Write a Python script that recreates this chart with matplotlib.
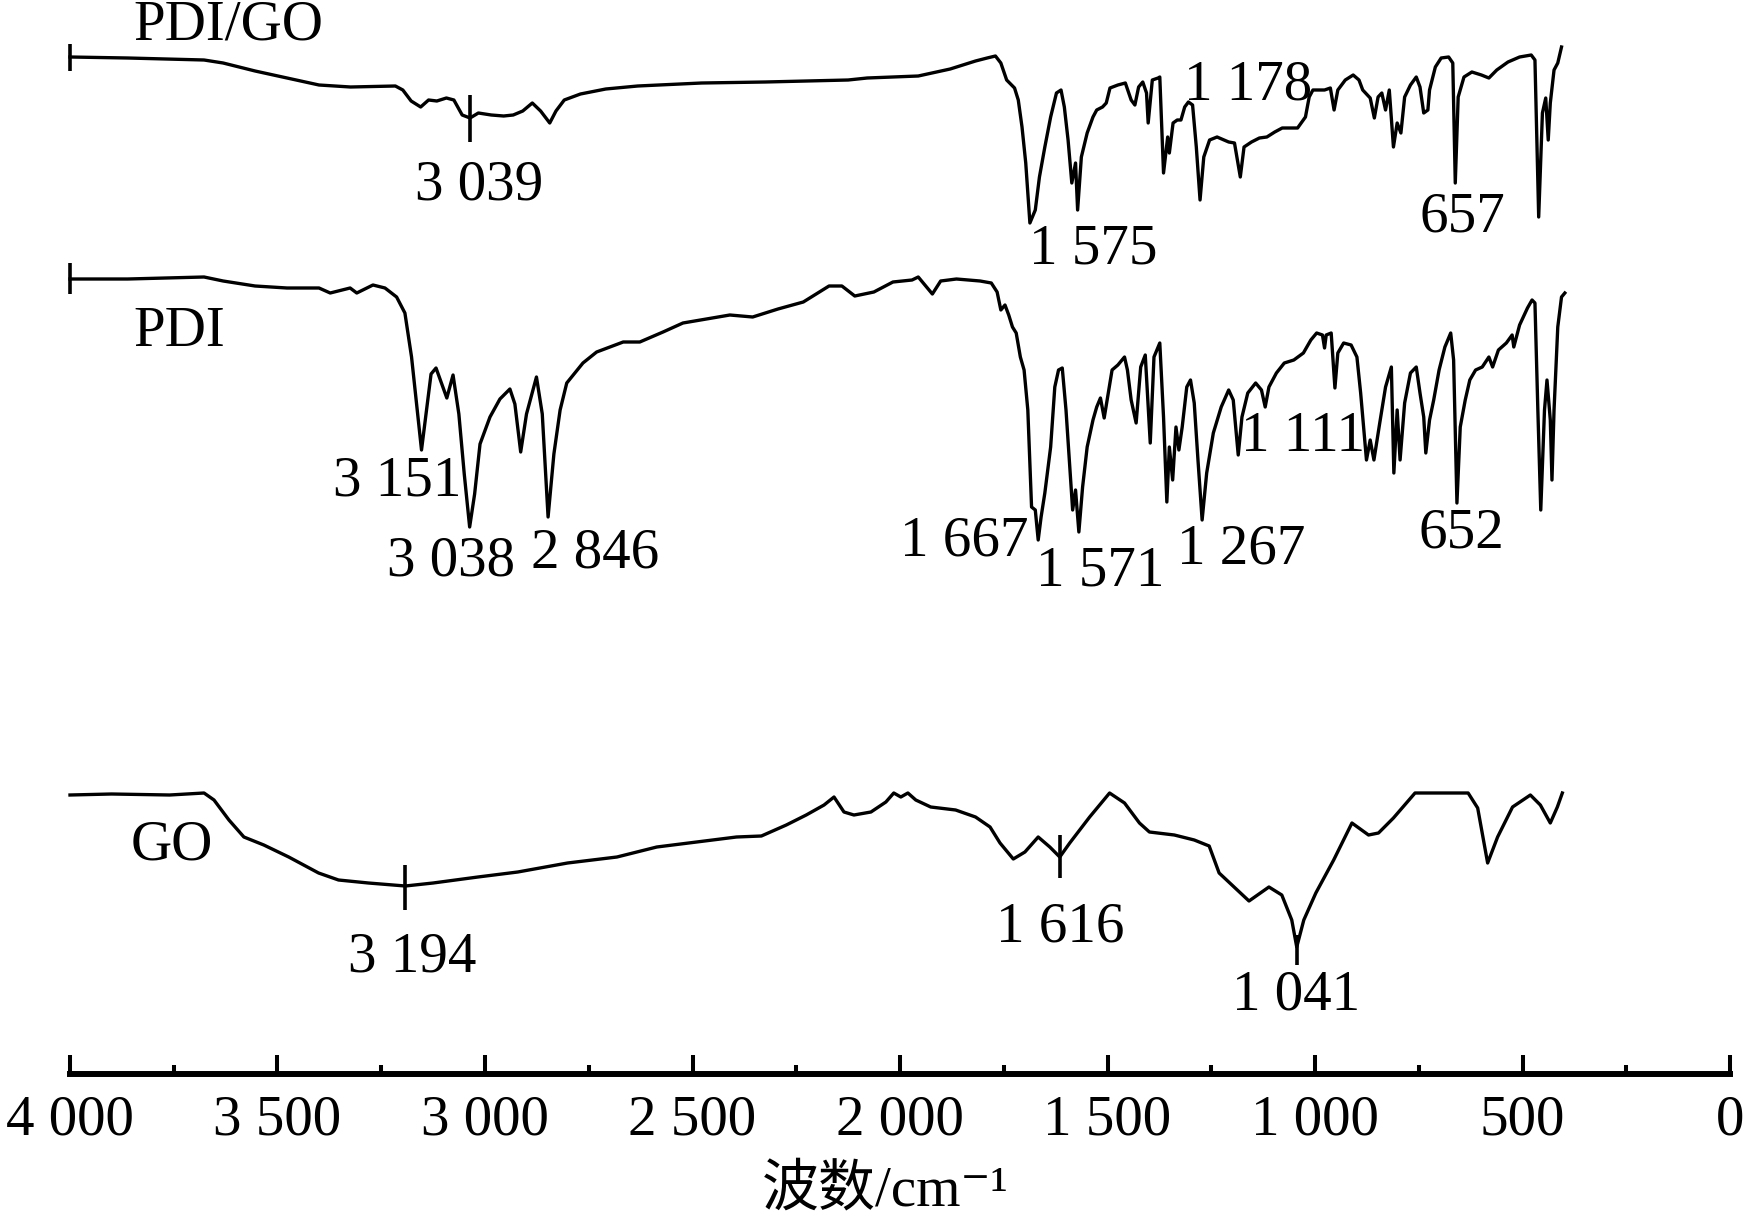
import matplotlib
matplotlib.use('Agg')
import matplotlib.pyplot as plt
import numpy as np

plt.rcParams['font.family'] = ['Liberation Serif', 'Noto Sans CJK SC', 'DejaVu Serif']

# wavenumber (cm-1) and stacked transmittance (a.u.)
pdigo_w = [4000, 3861, 3677, 3631, 3554, 3477, 3400, 3324, 3216, 3198,
           3178, 3155, 3136, 3116, 3093, 3075, 3055, 3036, 3016, 2985,
           2955, 2932, 2909, 2886, 2866, 2844, 2829, 2809, 2770, 2709,
           2632, 2478, 2325, 2125, 2079, 1956, 1879, 1818, 1790, 1770,
           1757, 1743, 1724, 1715, 1706, 1697, 1687, 1674, 1664, 1651,
           1637, 1623, 1612, 1604, 1595, 1586, 1577, 1572, 1563, 1549,
           1535, 1526, 1512, 1503, 1494, 1475, 1457, 1443, 1434, 1425,
           1415, 1406, 1402, 1392, 1378, 1374, 1369, 1365, 1355, 1351,
           1342, 1332, 1323, 1314, 1305, 1295, 1286, 1277, 1268, 1254,
           1236, 1208, 1194, 1180, 1171, 1153, 1134, 1116, 1097, 1079,
           1042, 1023, 1014, 1005, 977, 963, 954, 945, 927, 908,
           894, 885, 867, 857, 848, 839, 830, 821, 811, 802,
           793, 784, 770, 756, 747, 738, 728, 724, 710, 696,
           678, 668, 662, 655, 641, 622, 599, 581, 562, 535,
           507, 479, 470, 461, 452, 444, 438, 433, 424, 415,
           406]
pdigo_t = [1017, 1016, 1014, 1011, 1003, 996, 989, 987, 988, 984,
           973, 967, 974, 973, 976, 974, 959, 956, 961, 959,
           958, 959, 963, 971, 963, 951, 963, 974, 980, 985,
           988, 991, 992, 994, 996, 998, 1005, 1013, 1016, 1018,
           1011, 994, 986, 974, 947, 911, 851, 864, 897, 927,
           957, 981, 984, 967, 934, 891, 911, 864, 917, 941,
           957, 964, 967, 971, 986, 989, 991, 974, 969, 987,
           992, 981, 951, 994, 996, 997, 944, 901, 937, 921,
           951, 954, 954, 967, 972, 969, 927, 874, 917, 934,
           937, 932, 931, 897, 927, 932, 936, 937, 942, 946,
           946, 957, 977, 984, 984, 986, 964, 984, 994, 999,
           994, 984, 976, 956, 977, 981, 964, 984, 927, 951,
           941, 977, 989, 997, 987, 961, 964, 984, 1007, 1016,
           1017, 1011, 891, 977, 997, 1002, 999, 996, 1004, 1012,
           1017, 1019, 1014, 857, 961, 976, 934, 971, 1004, 1011,
           1027]

pdi_w = [4000, 3861, 3677, 3631, 3554, 3477, 3400, 3373, 3325, 3309,
         3270, 3241, 3213, 3193, 3177, 3165, 3153, 3141, 3130, 3118,
         3104, 3092, 3077, 3063, 3050, 3037, 3025, 3012, 2988, 2964,
         2940, 2928, 2914, 2900, 2876, 2862, 2848, 2834, 2819, 2803,
         2764, 2731, 2667, 2627, 2571, 2523, 2410, 2355, 2294, 2233,
         2171, 2140, 2109, 2063, 2017, 1971, 1956, 1922, 1902, 1864,
         1807, 1780, 1766, 1757, 1747, 1738, 1729, 1720, 1710, 1701,
         1692, 1683, 1674, 1667, 1660, 1651, 1637, 1627, 1618, 1609,
         1600, 1591, 1584, 1577, 1569, 1560, 1549, 1535, 1526, 1517,
         1508, 1498, 1489, 1475, 1459, 1452, 1443, 1431, 1420, 1409,
         1397, 1388, 1374, 1365, 1357, 1351, 1343, 1335, 1328, 1320,
         1309, 1300, 1291, 1282, 1272, 1261, 1245, 1226, 1208, 1197,
         1185, 1176, 1162, 1143, 1129, 1120, 1111, 1093, 1074, 1051,
         1028, 1010, 996, 982, 977, 973, 961, 952, 945, 931,
         913, 899, 890, 876, 867, 858, 844, 830, 816, 810,
         802, 795, 784, 770, 756, 747, 738, 733, 724, 714,
         701, 687, 673, 666, 658, 650, 638, 627, 613, 597,
         581, 572, 558, 539, 525, 521, 507, 488, 477, 470,
         463, 456, 447, 441, 433, 429, 424, 415, 406, 398]
pdi_t = [795, 795, 797, 793, 788, 786, 786, 781, 786, 781,
         789, 786, 777, 761, 717, 671, 624, 664, 700, 706,
         690, 676, 699, 660, 600, 547, 580, 630, 657, 675,
         685, 670, 622, 660, 697, 660, 557, 620, 664, 691,
         711, 722, 732, 732, 742, 751, 759, 757, 765, 772,
         788, 788, 778, 782, 792, 794, 797, 780, 793, 795,
         793, 791, 782, 764, 769, 759, 747, 741, 717, 704,
         664, 567, 564, 534, 557, 581, 627, 687, 704, 706,
         664, 607, 564, 584, 542, 587, 627, 654, 667, 676,
         656, 681, 704, 709, 717, 704, 674, 651, 707, 719,
         631, 717, 731, 657, 572, 627, 594, 647, 624, 647,
         687, 694, 671, 614, 554, 601, 641, 667, 684, 674,
         619, 657, 681, 691, 684, 667, 687, 701, 711, 714,
         721, 734, 741, 739, 726, 739, 741, 686, 721, 731,
         729, 717, 681, 614, 634, 614, 651, 687, 707, 601,
         664, 614, 671, 701, 707, 681, 657, 621, 654, 674,
         704, 727, 741, 714, 571, 647, 674, 694, 704, 707,
         717, 707, 724, 731, 739, 727, 749, 766, 774, 771,
         664, 564, 664, 694, 654, 594, 664, 747, 777, 781]

go_w = [4000, 3900, 3760, 3677, 3653, 3617, 3581, 3533, 3473, 3401,
        3353, 3281, 3192, 3125, 3017, 2921, 2801, 2682, 2586, 2490,
        2394, 2334, 2274, 2226, 2183, 2159, 2135, 2111, 2070, 2034,
        2015, 1998, 1981, 1962, 1926, 1866, 1818, 1783, 1759, 1727,
        1699, 1667, 1639, 1615, 1591, 1543, 1495, 1459, 1423, 1399,
        1339, 1291, 1255, 1231, 1195, 1159, 1111, 1080, 1056, 1044,
        1027, 998, 955, 911, 871, 847, 811, 759, 631, 608,
        584, 560, 524, 481, 457, 433, 416, 404]
go_t = [279, 280, 279, 281, 274, 254, 237, 229, 217, 201,
        194, 191, 188, 191, 197, 202, 211, 217, 227, 232,
        237, 238, 249, 259, 269, 277, 262, 259, 262, 272,
        281, 277, 281, 274, 267, 264, 257, 247, 231, 215,
        222, 237, 227, 217, 231, 257, 281, 271, 251, 242,
        239, 234, 228, 201, 187, 173, 187, 179, 154, 127,
        154, 181, 214, 251, 239, 241, 256, 281, 281, 266,
        211, 237, 267, 279, 269, 251, 267, 281]

names = ['PDI/GO', 'PDI', 'GO']
peak_labels = ['3 039', '1 575', '1 178', '657',
               '3 151', '3 038', '2 846', '1 667', '1 571', '1 267', '1 111', '652',
               '3 194', '1 616', '1 041']
tick_vals = [4000, 3500, 3000, 2500, 2000, 1500, 1000, 500, 0]
tick_labels = ['4 000', '3 500', '3 000', '2 500', '2 000', '1 500', '1 000', '500', '0']

# layout
name_pos = [(3848, 1049), (3847, 742), (3853, 228)]
peak_pos = [(3014, 888), (1535, 824), (1161, 989), (646, 856),
            (3212, 592), (3082, 513), (2734, 521), (1846, 532), (1518, 503),
            (1178, 524), (1028, 637), (648, 541),
            (3176, 117), (1614, 147), (1045, 78)]
# short vertical markers on the curves
mark_w = [4000, 4000, 3036, 3192, 1615, 1044]
mark_lo = [1003, 780, 932, 164, 196, 109]
mark_hi = [1030, 811, 979, 209, 239, 139]

fs = 41
fig = plt.figure(figsize=(17.45, 12.22), dpi=100)
ax = fig.add_axes([70/1745, 148/1222, 1660/1745, 1074/1222])

for w, t in [(pdigo_w, pdigo_t), (pdi_w, pdi_t), (go_w, go_t)]:
    ax.plot(w, t, color='black', lw=2.4, clip_on=False)
ax.vlines(mark_w, mark_lo, mark_hi, color='black', lw=2.6, clip_on=False)

for name, (x, y) in zip(names, name_pos):
    ax.text(x, y, name, fontsize=fs, ha='left', va='center')
for lab, (x, y) in zip(peak_labels, peak_pos):
    ax.text(x, y, lab, fontsize=fs, ha='center', va='center')

ax.set_xlim(4000, 0)
ax.set_ylim(0, 1074)
for s in ['left', 'right', 'top']:
    ax.spines[s].set_visible(False)
ax.spines['bottom'].set_linewidth(4.3)
ax.set_yticks([])
ax.set_xticks(tick_vals)
ax.set_xticklabels(tick_labels)
ax.set_xticks(np.arange(3750, 0, -500), minor=True)
ax.tick_params(axis='x', which='major', direction='in', length=14, width=2.9,
               pad=15, labelsize=fs)
ax.tick_params(axis='x', which='minor', direction='in', length=6.5, width=2.9)

fig.text(885/1745, 1 - 1205/1222, '波数/cm\u207b\u00b9', fontsize=fs,
         ha='center', va='baseline')

fig.savefig('out.png', dpi=100)
